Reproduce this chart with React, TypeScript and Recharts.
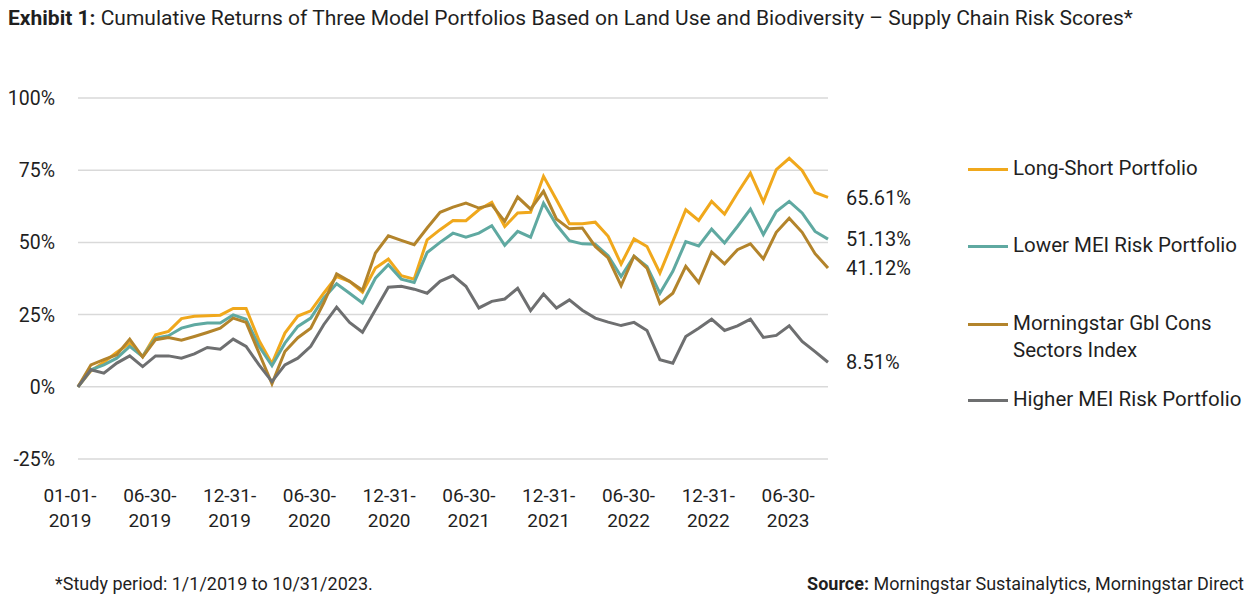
import React from "react";
import { LineChart, Line, XAxis, YAxis, CartesianGrid } from "recharts";

// Month-end dates of the study period
const dates = [
  "01-01-2019", "01-31-2019", "02-28-2019", "03-31-2019", "04-30-2019", "05-31-2019",
  "06-30-2019", "07-31-2019", "08-31-2019", "09-30-2019", "10-31-2019", "11-30-2019",
  "12-31-2019", "01-31-2020", "02-29-2020", "03-31-2020", "04-30-2020", "05-31-2020",
  "06-30-2020", "07-31-2020", "08-31-2020", "09-30-2020", "10-31-2020", "11-30-2020",
  "12-31-2020", "01-31-2021", "02-28-2021", "03-31-2021", "04-30-2021", "05-31-2021",
  "06-30-2021", "07-31-2021", "08-31-2021", "09-30-2021", "10-31-2021", "11-30-2021",
  "12-31-2021", "01-31-2022", "02-28-2022", "03-31-2022", "04-30-2022", "05-31-2022",
  "06-30-2022", "07-31-2022", "08-31-2022", "09-30-2022", "10-31-2022", "11-30-2022",
  "12-31-2022", "01-31-2023", "02-28-2023", "03-31-2023", "04-30-2023", "05-31-2023",
  "06-30-2023", "07-31-2023", "08-31-2023", "09-30-2023", "10-31-2023",
];

// Cumulative returns, %
const longShort = [
  0, 5.5, 8.5, 12.0, 15.0, 10.5, 18.0, 19.2, 23.6, 24.4, 24.6, 24.8, 27.1, 27.1, 16.0,
  8.0, 18.6, 24.5, 26.3, 32.4, 38.2, 36.5, 32.8, 41.1, 44.2, 38.5, 37.3, 50.9, 54.4,
  57.6, 57.5, 61.3, 63.9, 55.5, 60.2, 60.4, 72.9, 64.8, 56.5, 56.5, 57.0, 52.1, 42.5,
  51.2, 48.6, 39.4, 50.3, 61.3, 57.6, 64.2, 59.8, 67.1, 74.0, 64.0, 75.2, 79.1, 74.9,
  67.3, 65.61,
];
const lowerMei = [
  0, 5.9, 7.6, 9.9, 14.0, 10.5, 16.9, 17.7, 20.3, 21.5, 22.1, 22.1, 24.9, 23.4, 14.0,
  7.3, 15.1, 20.9, 23.8, 30.7, 35.7, 32.4, 29.0, 37.6, 42.3, 37.3, 36.1, 46.5, 50.0,
  53.2, 51.8, 53.2, 55.8, 49.0, 53.8, 51.8, 63.6, 56.1, 50.6, 49.5, 49.4, 45.4, 38.2,
  45.2, 41.7, 32.4, 40.0, 50.3, 48.8, 54.6, 49.8, 55.5, 61.5, 52.7, 60.7, 64.2, 60.2,
  53.8, 51.13,
];
const gblCons = [
  0, 7.6, 9.4, 11.1, 16.5, 10.3, 16.3, 17.1, 16.1, 17.4, 18.8, 20.3, 23.8, 22.3, 11.7,
  1.0, 12.2, 17.0, 20.3, 29.0, 39.1, 36.5, 33.4, 46.3, 52.3, 50.7, 49.2, 55.0, 60.4,
  62.2, 63.6, 61.9, 63.0, 57.3, 65.7, 61.5, 67.7, 58.1, 54.7, 55.0, 48.6, 44.6, 35.0,
  45.2, 41.1, 28.8, 32.4, 41.7, 36.1, 46.7, 42.6, 47.5, 49.5, 44.3, 53.5, 58.4, 53.5,
  46.1, 41.12,
];
const higherMei = [
  0, 5.9, 4.7, 8.2, 10.7, 7.0, 10.7, 10.7, 9.9, 11.4, 13.6, 13.0, 16.5, 14.0, 7.6,
  1.8, 7.6, 9.9, 14.0, 21.5, 27.6, 22.3, 18.9, 26.7, 34.5, 34.8, 33.8, 32.4, 36.5,
  38.5, 34.8, 27.3, 29.6, 30.4, 34.1, 26.4, 32.1, 27.3, 30.1, 26.5, 23.8, 22.4, 21.2,
  22.3, 19.5, 9.4, 8.2, 17.4, 20.3, 23.4, 19.5, 21.1, 23.4, 17.1, 17.8, 21.1, 15.7,
  12.2, 8.51,
];

const yTicks = [-25, 0, 25, 50, 75, 100];

const series = [
  { key: "longShort", name: "Long-Short Portfolio", color: "#F0A81C", values: longShort },
  { key: "lowerMei", name: "Lower MEI Risk Portfolio", color: "#5FA9A1", values: lowerMei },
  { key: "gblCons", name: "Morningstar Gbl Cons\nSectors Index", color: "#B3842B", values: gblCons },
  { key: "higherMei", name: "Higher MEI Risk Portfolio", color: "#6E6F70", values: higherMei },
];

const data = dates.map((d, i) => {
  const row: Record<string, any> = { date: d };
  series.forEach((s) => (row[s.key] = s.values[i]));
  return row;
});

const FONT = "Roboto, 'Noto Sans', sans-serif";
const TEXT = "#1f1f1f";
const lastIndex = dates.length - 1;

// date labels sit a little left of the first tick and spread slightly wider
function DateTick(props: any) {
  const { x, y, payload, index } = props;
  const label: string = payload.value;
  const nudge = -8 + index * 2.2;
  return (
    <text x={x + nudge} y={y} textAnchor="middle" fill={TEXT} fontSize={19} fontFamily={FONT}>
      <tspan x={x + nudge} dy={43}>{label.slice(0, 6)}</tspan>
      <tspan x={x + nudge} dy={25}>{label.slice(6)}</tspan>
    </text>
  );
}

function EndLabel(props: any) {
  const { x, y, index, value } = props;
  if (index !== lastIndex) return null;
  return (
    <text x={x + 18} y={y} dy="0.36em" fill={TEXT} fontSize={20} fontFamily={FONT}>
      {`${Number(value).toFixed(2)}%`}
    </text>
  );
}

// top of each legend entry (page px)
const legendTops = [155, 232, 310, 386];

export default function App() {
  return (
    <div style={{ position: "absolute", left: 0, top: 0, width: 1252, height: 600, background: "#fff", fontFamily: FONT }}>
      <div style={{ position: "absolute", left: 8, top: 6, fontSize: 21, color: TEXT, whiteSpace: "nowrap" }}>
        <b>Exhibit 1:</b> Cumulative Returns of Three Model Portfolios Based on Land Use and Biodiversity – Supply Chain Risk Scores*
      </div>

      <LineChart
        width={1252}
        height={600}
        data={data}
        margin={{ top: 98, right: 424, bottom: 81, left: 8 }}
        style={{ position: "absolute", left: 0, top: 0 }}
      >
        <CartesianGrid vertical={false} stroke="#d9d9d9" strokeWidth={1.5} />
        <XAxis
          dataKey="date"
          interval={5}
          height={60}
          tickLine={false}
          axisLine={false}
          tickSize={0}
          tickMargin={0}
          tick={<DateTick />}
        />
        <YAxis
          width={70}
          domain={[-25, 100]}
          ticks={yTicks}
          tickFormatter={(v: number) => `${v}%`}
          tickLine={false}
          axisLine={false}
          tickSize={0}
          tickMargin={23}
          tick={{ fontSize: 19.5, fill: TEXT, fontFamily: FONT }}
        />
        {series.map((s) => (
          <Line
            key={s.key}
            dataKey={s.key}
            name={s.name}
            stroke={s.color}
            strokeWidth={3}
            dot={false}
            activeDot={false}
            isAnimationActive={false}
            label={<EndLabel />}
          />
        ))}
      </LineChart>

      {series.map((s, i) => (
        <div
          key={s.key}
          style={{ position: "absolute", left: 968, top: legendTops[i], display: "flex", alignItems: "flex-start" }}
        >
          <div style={{ width: 40, height: 3, background: s.color, marginTop: 13, marginRight: 5 }} />
          <div style={{ fontSize: 20.5, lineHeight: "27px", color: TEXT, whiteSpace: "pre" }}>{s.name}</div>
        </div>
      ))}

      <div style={{ position: "absolute", left: 55, top: 573, fontSize: 18, color: TEXT, whiteSpace: "nowrap" }}>
        *Study period: 1/1/2019 to 10/31/2023.
      </div>
      <div style={{ position: "absolute", right: 8, top: 573, fontSize: 18, color: TEXT, whiteSpace: "nowrap" }}>
        <b>Source:</b> Morningstar Sustainalytics, Morningstar Direct
      </div>
    </div>
  );
}
